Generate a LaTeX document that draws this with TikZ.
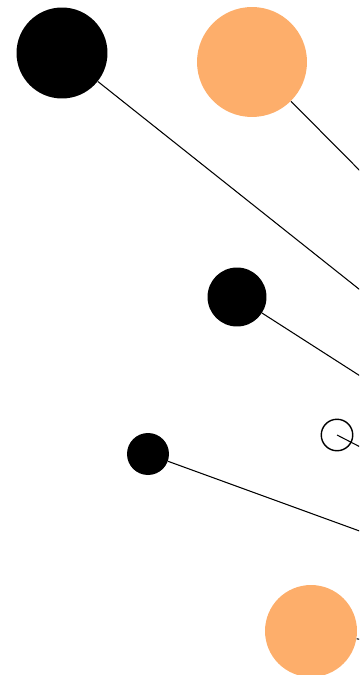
\documentclass[tikz,border=0pt]{standalone}
\usepackage{tikz}
\usetikzlibrary{positioning}
\definecolor{softorange}{HTML}{FDAE6B}
\tikzset{
  dot/.style={circle, fill=black, inner sep=0pt},
  orangedot/.style={circle, fill=softorange, inner sep=0pt},
  ringdot/.style={circle, draw=black, line width=0.8pt, inner sep=0pt},
  link/.style={draw=black, line width=0.6pt}
}

\begin{document}
\begin{tikzpicture}[x=0.02cm, y=-0.02cm]
  \useasboundingbox (0,0) rectangle (359,675);
  \clip (0,0) rectangle (359,675);
  \coordinate (hub) at (920,735);
  \node[dot, minimum size=1.82cm] (big) at (62,53) {};
  \node[orangedot, minimum size=2.2cm] (peach) at (252,62) {};
  \node[dot, minimum size=1.18cm] (mid) at (237,297) {};
  \node[ringdot, minimum size=0.63cm] (ring) at (337,435) {};
  \node[dot, minimum size=0.84cm] (small) at (148,454) {};
  \node[orangedot, minimum size=1.84cm] (lowpeach) at (311,631) {};
  \draw[link] (big) -- (hub); \draw[link] (peach) -- (hub); \draw[link] (mid) -- (hub);
  \draw[link] (ring.center) -- (hub); \draw[link] (small) -- (hub); \draw[link] (lowpeach) -- (hub);
\end{tikzpicture}
\end{document}
